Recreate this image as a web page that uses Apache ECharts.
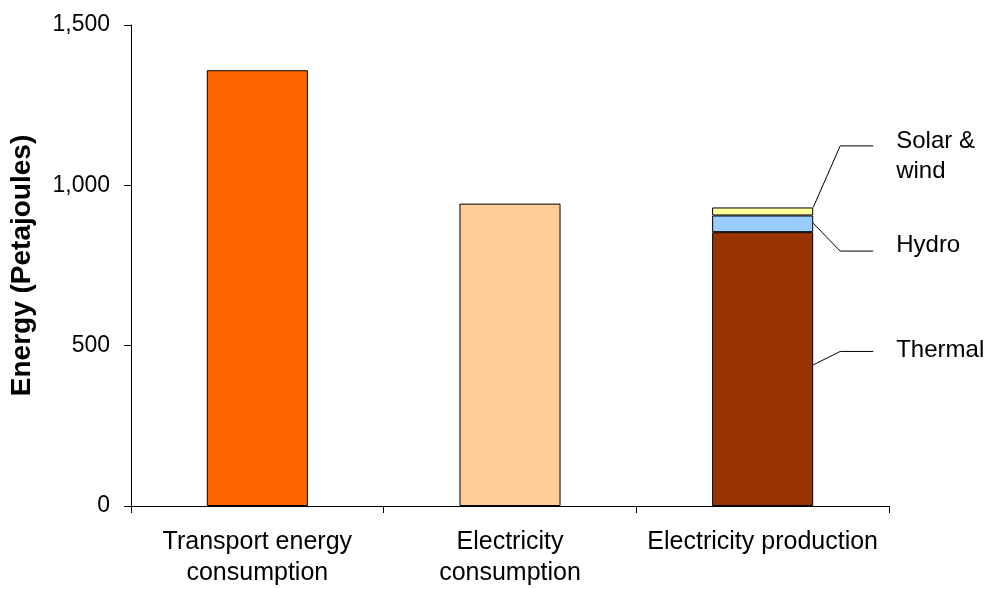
<!DOCTYPE html>
<html>
<head>
<meta charset="utf-8">
<script src="https://cdn.jsdelivr.net/npm/echarts@6/dist/echarts.min.js"></script>
<style>
  html, body { margin: 0; padding: 0; background: #ffffff; }
  #chart { width: 984px; height: 589px; }
</style>
</head>
<body>
<div id="chart"></div>
<script>
// Categories along the x axis
const categories = ['Transport energy\nconsumption', 'Electricity\nconsumption', 'Electricity production'];

// Energy values (Petajoules)
const transportConsumption = [1359, '-', '-'];
const electricityConsumption = ['-', 943, '-'];
const thermalProduction = ['-', '-', 854];
const hydroProduction = ['-', '-', 52];
const solarWindProduction = ['-', '-', 25];

// Y axis scale
const yMin = 0;
const yMax = 1500;
const yStep = 500;

// Callouts for the production bar: text, value where the leader meets the bar,
// value level of the horizontal leader, value level of the text block
const calloutText = ['Solar &\nwind', 'Hydro', 'Thermal'];
const calloutAnchor = [931, 882, 440];
const calloutLineLevel = [1123, 795, 482];
const calloutTextLevel = [1089, 813, 486];
const calloutCategory = 2;

const FONT = '"Liberation Sans", Arial, sans-serif';
const BAR_FRACTION = 0.4;

const chart = echarts.init(document.getElementById('chart'), null, { renderer: 'canvas' });

function barSeries(name, data, color) {
  return {
    name: name,
    type: 'bar',
    stack: 'energy',
    barWidth: (BAR_FRACTION * 100) + '%',
    data: data,
    itemStyle: { color: color, borderColor: '#000000', borderWidth: 1 },
    emphasis: { disabled: true },
    animation: false
  };
}

const calloutData = calloutText.map((t, i) => [calloutCategory, calloutAnchor[i], calloutLineLevel[i], calloutTextLevel[i]]);

const option = {
  backgroundColor: '#ffffff',
  animation: false,
  grid: { left: 130, right: 95, top: 25, bottom: 79 },
  xAxis: {
    type: 'category',
    data: categories,
    boundaryGap: true,
    axisLine: { show: true, lineStyle: { color: '#000000', width: 1 } },
    axisTick: { show: true, alignWithLabel: false, length: 7, inside: false, lineStyle: { color: '#000000' } },
    axisLabel: {
      interval: 0,
      margin: 21,
      color: '#000000',
      fontFamily: FONT,
      fontSize: 25,
      lineHeight: 31
    },
    splitLine: { show: false }
  },
  yAxis: {
    type: 'value',
    min: yMin,
    max: yMax,
    interval: yStep,
    name: 'Energy (Petajoules)',
    nameLocation: 'middle',
    nameRotate: 90,
    nameGap: 95,
    nameTextStyle: { color: '#000000', fontFamily: FONT, fontSize: 28, fontWeight: 'bold' },
    axisLine: { show: true, lineStyle: { color: '#000000', width: 1 } },
    axisTick: { show: true, length: 7, inside: false, lineStyle: { color: '#000000' } },
    axisLabel: {
      margin: 21,
      color: '#000000',
      fontFamily: FONT,
      fontSize: 23,
      formatter: v => v.toLocaleString('en-US')
    },
    splitLine: { show: false }
  },
  series: [
    barSeries('Transport energy consumption', transportConsumption, '#FF6600'),
    barSeries('Electricity consumption', electricityConsumption, '#FFCC99'),
    barSeries('Thermal', thermalProduction, '#993300'),
    barSeries('Hydro', hydroProduction, '#99CCFF'),
    barSeries('Solar & wind', solarWindProduction, '#FFFF99'),
    {
      name: 'Callouts',
      type: 'custom',
      coordinateSystem: 'cartesian2d',
      clip: false,
      silent: true,
      z: 5,
      data: calloutData,
      renderItem: function (params, api) {
        const cat = api.value(0);
        const anchor = api.coord([cat, api.value(1)]);
        const level = api.coord([cat, api.value(2)]);
        const textAt = api.coord([cat, api.value(3)]);
        const halfBar = api.size([1, 0])[0] * BAR_FRACTION / 2;
        const x0 = anchor[0] + halfBar;
        const x1 = x0 + 27;
        const x2 = x0 + 60;
        return {
          type: 'group',
          children: [
            {
              type: 'polyline',
              shape: { points: [[x0, anchor[1]], [x1, level[1]], [x2, level[1]]] },
              style: { stroke: '#000000', lineWidth: 1, fill: null }
            },
            {
              type: 'text',
              style: {
                text: calloutText[params.dataIndex],
                x: x0 + 83,
                y: textAt[1],
                align: 'left',
                verticalAlign: 'middle',
                fill: '#000000',
                font: '24px ' + FONT,
                lineHeight: 30
              }
            }
          ]
        };
      }
    }
  ]
};

chart.setOption(option);
</script>
</body>
</html>
